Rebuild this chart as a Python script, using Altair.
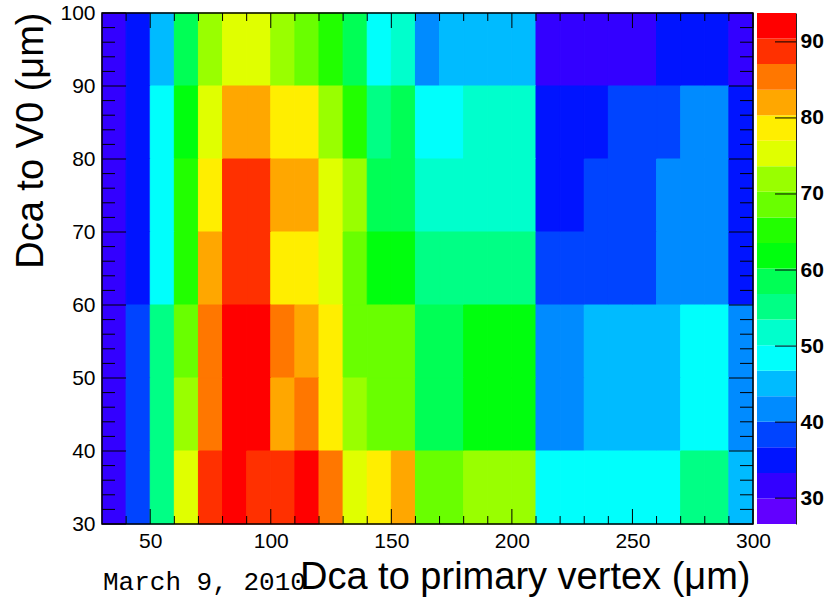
import altair as alt
import numpy as np
import pandas as pd

# ---- data ----
x_lo = list(range(30, 300, 10))          # x bin lower edges (bin width 10)
y_lo = [90, 80, 70, 60, 50, 40, 30]      # y bin lower edges, top row first (bin width 10)

row_90 = [32, 35, 45, 58, 72, 75, 75, 72, 69, 65, 58, 48, 52, 42, 45, 45, 45, 45, 32, 32, 32, 32, 32, 35, 35, 35, 32]
row_80 = [32, 35, 48, 62, 75, 82, 82, 79, 79, 72, 65, 55, 58, 48, 48, 52, 52, 52, 35, 35, 35, 38, 38, 38, 42, 42, 35]
row_70 = [32, 35, 48, 65, 79, 89, 89, 82, 82, 75, 72, 58, 58, 52, 52, 52, 52, 52, 35, 35, 38, 38, 38, 42, 42, 42, 35]
row_60 = [32, 35, 48, 65, 82, 89, 89, 79, 79, 75, 69, 62, 62, 55, 55, 55, 55, 55, 38, 38, 38, 38, 38, 42, 42, 42, 35]
row_50 = [32, 38, 55, 69, 85, 92, 92, 85, 82, 79, 69, 69, 69, 58, 58, 62, 62, 62, 42, 42, 45, 45, 45, 45, 48, 48, 42]
row_40 = [32, 38, 55, 72, 85, 92, 92, 82, 85, 79, 72, 69, 69, 58, 58, 62, 62, 62, 42, 42, 45, 45, 45, 45, 48, 48, 42]
row_30 = [32, 38, 55, 75, 89, 92, 89, 89, 92, 85, 75, 79, 82, 69, 69, 72, 72, 72, 48, 48, 48, 48, 48, 48, 55, 55, 45]
rows = [row_90, row_80, row_70, row_60, row_50, row_40, row_30]

z_min, z_max = 26.6, 93.8
n_levels = 20
palette = ["#6200FF", "#3300FF", "#0014FF", "#0044FF", "#008BFF", "#00BBFF", "#00FFFC",
           "#00FFCC", "#00FF85", "#00FF55", "#00FF0E", "#22FF00", "#69FF00", "#99FF00",
           "#E0FF00", "#FFEE00", "#FFA700", "#FF7700", "#FF3000", "#FF0000"]

x_major = [50, 100, 150, 200, 250, 300]
x_minor = [v for v in range(40, 300, 10) if v % 50 != 0]
y_major = [30, 40, 50, 60, 70, 80, 90, 100]
y_minor = [v for v in range(32, 100, 2) if v % 10 != 0]
z_ticks = [30, 40, 50, 60, 70, 80, 90]

x_title = "Dca to primary vertex (\u03bcm)"
y_title = "Dca to V0 (\u03bcm)"
date_text = "March 9, 2010"

# ---- tables ----
recs = []
for yl, row in zip(y_lo, rows):
    for xl, z in zip(x_lo, row):
        recs.append({"x0": xl, "x1": xl + 10, "y0": yl, "y1": yl + 10, "z": z})
heat_df = pd.DataFrame(recs)

edges = np.linspace(z_min, z_max, n_levels + 1)
cb_df = pd.DataFrame({"lo": edges[:-1], "hi": edges[1:], "mid": (edges[:-1] + edges[1:]) / 2})

# ---- layout (pixels) ----
PW, PH = 651, 511          # heatmap frame
CB_X0, CB_X1 = 655, 694    # colorbar
W = 694
TITLE_FONT = "Liberation Sans, Arial, sans-serif"
LABEL_FONT = "Liberation Sans, Arial, sans-serif"

xscale = alt.Scale(domain=[30, 300], range=[0, PW], nice=False, zero=False)
yscale = alt.Scale(domain=[30, 100], nice=False, zero=False)
cscale = alt.Scale(type="quantize", domain=[z_min, z_max], range=palette, nice=False, zero=False)
zscale = alt.Scale(domain=[z_min, z_max], nice=False, zero=False)

x_axis = alt.Axis(
    values=x_major, title=x_title, grid=False, domain=False, ticks=False, tickSize=0,
    labelFont=LABEL_FONT, labelFontSize=21, labelColor="black", labelPadding=6,
    labelFlush=False, labelOverlap=False,
    titleFont=TITLE_FONT, titleFontSize=38, titleFontWeight="normal", titleColor="black",
    titleX=648, titleY=64, titleAlign="right", titleBaseline="alphabetic")
y_axis = alt.Axis(
    values=y_major, title=y_title, grid=False, domain=False, ticks=False, tickSize=0,
    labelFont=LABEL_FONT, labelFontSize=21, labelColor="black", labelPadding=7,
    labelFlush=False, labelOverlap=False,
    titleFont=TITLE_FONT, titleFontSize=38, titleFontWeight="normal", titleColor="black",
    titleX=-60, titleY=-1, titleAngle=270, titleAlign="right", titleBaseline="alphabetic")
z_axis = alt.Axis(
    orient="right", values=z_ticks, title=None, grid=False, ticks=False, tickSize=0,
    domain=True, domainColor="#222222", domainWidth=1,
    labelFont=LABEL_FONT, labelFontSize=21, labelFontWeight="bold", labelColor="black",
    labelPadding=4, labelFlush=False, labelOverlap=False)

heat = alt.Chart(heat_df).mark_rect(strokeWidth=1).encode(
    x=alt.X("x0:Q", scale=xscale, axis=x_axis),
    x2="x1",
    y=alt.Y("y0:Q", scale=yscale, axis=y_axis),
    y2="y1",
    color=alt.Color("z:Q", scale=cscale, legend=None),
    stroke=alt.Stroke("z:Q", scale=cscale, legend=None),
)

def tick_layer(vals, channel, p0, p1):
    df = pd.DataFrame({"v": vals})
    base = alt.Chart(df).mark_rule(color="black", strokeWidth=1)
    if channel == "x":
        return base.encode(x=alt.X("v:Q", scale=xscale, axis=x_axis), y=alt.value(p0), y2=alt.value(p1))
    return base.encode(y=alt.Y("v:Q", scale=yscale, axis=y_axis), x=alt.value(p0), x2=alt.value(p1))

ticks = [
    tick_layer(x_major, "x", PH, PH - 15), tick_layer(x_minor, "x", PH, PH - 8),
    tick_layer(x_major, "x", 0, 15), tick_layer(x_minor, "x", 0, 8),
    tick_layer(y_major, "y", 0, 24), tick_layer(y_minor, "y", 0, 13),
    tick_layer(y_major, "y", PW, PW - 24), tick_layer(y_minor, "y", PW, PW - 13),
]

frame = alt.Chart(pd.DataFrame({"k": [0]})).mark_rect(
    fillOpacity=0, stroke="black", strokeWidth=1.5
).encode(x=alt.value(0), x2=alt.value(PW), y=alt.value(0), y2=alt.value(PH))

date = alt.Chart(pd.DataFrame({"t": [date_text]})).mark_text(
    align="left", baseline="alphabetic", font="Liberation Mono, DejaVu Sans Mono, monospace",
    fontSize=26, color="black"
).encode(x=alt.value(1), y=alt.value(577), text="t:N")

main = alt.layer(heat, *ticks, frame, date)

cbar = alt.Chart(cb_df).mark_rect().encode(
    x=alt.value(CB_X0), x2=alt.value(CB_X1),
    y=alt.Y("lo:Q", scale=zscale, axis=z_axis),
    y2="hi",
    color=alt.Color("mid:Q", scale=cscale, legend=None),
)
cb_ticks = alt.Chart(pd.DataFrame({"v": z_ticks})).mark_rule(color="black", strokeWidth=1).encode(
    y=alt.Y("v:Q", scale=zscale, axis=z_axis), x=alt.value(CB_X1 - 21), x2=alt.value(CB_X1))

colorbar = alt.layer(cbar, cb_ticks)

chart = alt.layer(main, colorbar).resolve_scale(y="independent").properties(
    width=W, height=PH,
    autosize=alt.AutoSizeParams(type="none"),
    padding={"left": 102, "top": 13, "right": 36, "bottom": 76},
    background="white",
).configure_view(stroke=None)

chart.save("out.html", embed_options={"renderer": "svg", "actions": False})
